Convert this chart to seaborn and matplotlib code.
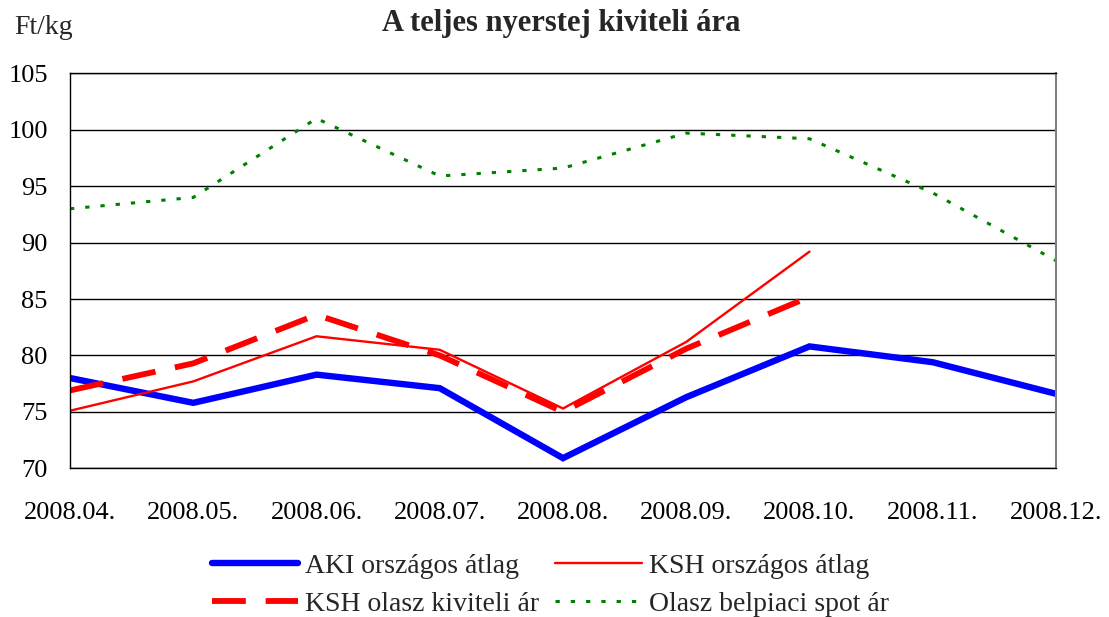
import matplotlib
matplotlib.use("Agg")
import matplotlib.pyplot as plt
import numpy as np
import pandas as pd
import seaborn as sns

months = ["2008.04.", "2008.05.", "2008.06.", "2008.07.", "2008.08.",
          "2008.09.", "2008.10.", "2008.11.", "2008.12."]
aki_orszagos = [78.0, 75.8, 78.3, 77.1, 70.9, 76.3, 80.8, 79.4, 76.6]
ksh_orszagos = [75.1, 77.7, 81.7, 80.5, 75.3, 81.2, 89.2, np.nan, np.nan]
ksh_olasz = [76.9, 79.3, 83.6, 80.0, 75.0, 80.6, 85.2, np.nan, np.nan]
olasz_spot = [93.0, 94.0, 101.0, 95.9, 96.6, 99.7, 99.2, 94.4, 88.4]

series_names = ["AKI országos átlag", "KSH országos átlag",
                "KSH olasz kiviteli ár", "Olasz belpiaci spot ár"]
series_values = [aki_orszagos, ksh_orszagos, ksh_olasz, olasz_spot]

sns.set_theme(style="white")
plt.rcParams["font.family"] = ["Liberation Serif", "DejaVu Serif"]

df = pd.DataFrame({"honap": months})
for name, vals in zip(series_names, series_values):
    df[name] = vals
df["pos"] = np.arange(len(months))
long_df = df.melt(id_vars=["honap", "pos"], var_name="sorozat", value_name="ar").dropna()

styles = {
    "AKI országos átlag": dict(color="#0000FF", lw=4.6, dashes=None),
    "KSH országos átlag": dict(color="#FF0000", lw=1.7, dashes=None),
    "KSH olasz kiviteli ár": dict(color="#FF0000", lw=4.2, dashes=(5.8, 3.4)),
    "Olasz belpiaci spot ár": dict(color="#008000", lw=2.2, dashes=(1.4, 3.6)),
}

fig = plt.figure(figsize=(11.09, 6.17), dpi=100)
ax = fig.add_axes([70 / 1109, 1 - 468.3 / 617, 986 / 1109, 395 / 617])

for name in series_names:
    st = styles[name]
    sub = long_df[long_df["sorozat"] == name]
    sns.lineplot(data=sub, x="pos", y="ar", ax=ax, color=st["color"], lw=st["lw"],
                 label=name, sort=False, estimator=None)
    line = ax.get_lines()[-1]
    line.set_solid_joinstyle("miter")
    if st["dashes"] is not None:
        line.set_dashes(st["dashes"])
        line.set_dash_capstyle("butt")

ax.set_xlim(0, len(months) - 1)
ax.set_ylim(70, 105)
ax.set_yticks(range(70, 106, 5))
ax.set_xticks(df["pos"])
ax.set_xticklabels(months)
ax.set_xlabel("")
ax.set_ylabel("")
ax.yaxis.grid(True, color="black", lw=1.0)
ax.set_axisbelow(True)
ax.tick_params(axis="both", which="both", direction="out", length=9, width=1.0,
               color="black", labelsize=19, labelcolor="black")
ax.tick_params(axis="x", pad=15)
ax.tick_params(axis="y", pad=7)
for side in ["left", "bottom", "top"]:
    ax.spines[side].set_color("black")
    ax.spines[side].set_linewidth(1.0)
ax.spines["right"].set_color("#808080")
ax.spines["right"].set_linewidth(1.5)

# legend filled row by row: AKI | KSH orsz. / KSH olasz | spot
handles, labels = ax.get_legend_handles_labels()
ax.legend_.remove()
order = [0, 2, 1, 3]
fig.legend([handles[i] for i in order], [labels[i] for i in order], ncol=2,
           loc="center", bbox_to_anchor=(0.496, 0.052), frameon=False, fontsize=20,
           handlelength=3.1, handletextpad=0.25, columnspacing=0.6, labelspacing=0.45)

fig.text(14 / 1109, 1 - 27 / 617, "Ft/kg", fontsize=20, ha="left", va="center")
fig.text(561 / 1109, 1 - 24 / 617, "A teljes nyerstej kiviteli ára", fontsize=22,
         fontweight="bold", ha="center", va="center")

fig.savefig("out.png", dpi=100)
